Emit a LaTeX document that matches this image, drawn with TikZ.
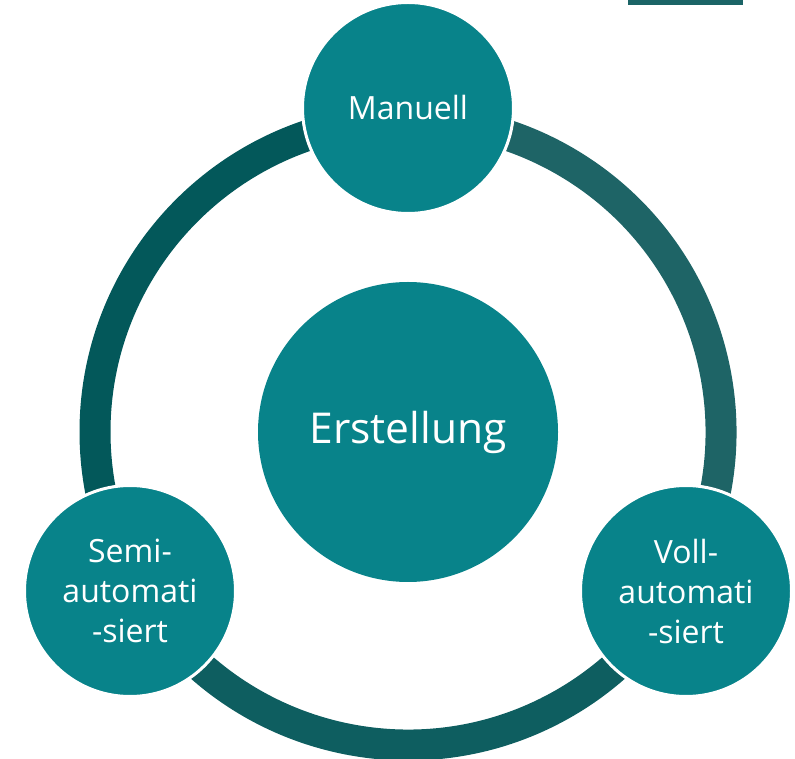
\documentclass[tikz,border=0pt]{standalone}
\usepackage{fontspec}
\setmainfont{Open Sans}
\usepackage{xcolor}
\usepackage{tikz}
\usetikzlibrary{positioning, calc}
\definecolor{tealfill}{HTML}{08838A}
\definecolor{ringleft}{HTML}{03585A}
\definecolor{ringright}{HTML}{1E6466}
\definecolor{ringbottom}{HTML}{0E5E60}
\definecolor{topbar}{HTML}{1B6466}

\begin{document}
\begin{tikzpicture}[
  x=1pt, y=1pt,
  ringarc/.style={line width=31pt},
  hub/.style={circle, fill=tealfill, minimum size=300pt, inner sep=0pt,
              text=white, font=\fontsize{42.5}{50}\selectfont},
  satellite/.style={circle, fill=tealfill, draw=white, line width=3pt,
                    minimum size=211pt, inner sep=0pt, text=white,
                    align=center, font=\fontsize{32}{40}\selectfont}
]
\useasboundingbox (0,0) rectangle (795,758);
% Bar cut off at the top edge
\fill[topbar] (628,753) rectangle (743,758);
% Centre
\node[hub] (hub) at (408,326) {Erstellung};
% Ring in three arcs
\draw[ringarc, ringleft]   ($(hub.center)+(90:313)$)  arc[start angle=90,  end angle=210, radius=313];
\draw[ringarc, ringright]  ($(hub.center)+(-30:313)$) arc[start angle=-30, end angle=90,  radius=313];
\draw[ringarc, ringbottom] ($(hub.center)+(210:313)$) arc[start angle=210, end angle=330, radius=313];
% The three kinds
\node[satellite] (manuell) at (408,650) {Manuell};
\node[satellite] (semi)    at (130,167) {Semi-\\automati\\-siert};
\node[satellite] (voll)    at (686,167) {Voll-\\automati\\-siert};
\end{tikzpicture}
\end{document}
